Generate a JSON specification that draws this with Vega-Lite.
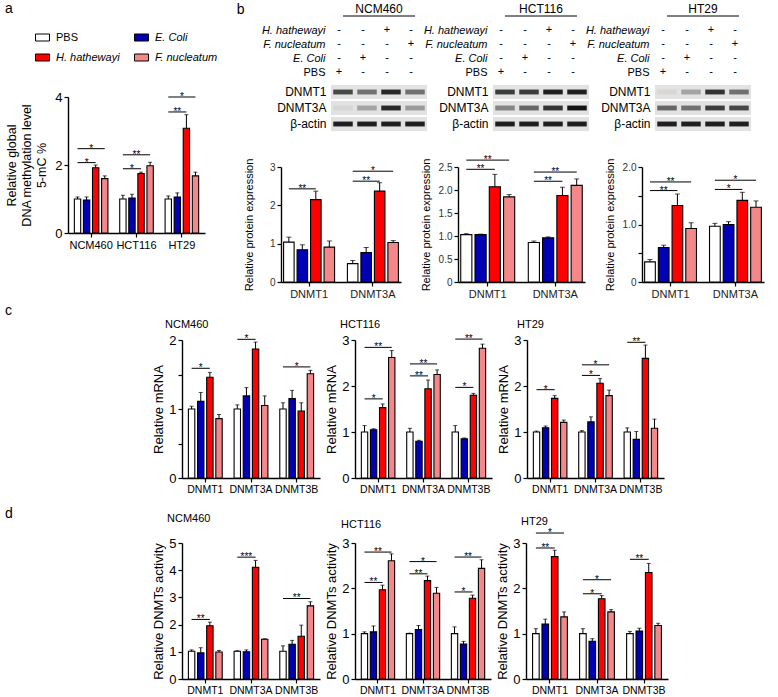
{
"$schema": "https://vega.github.io/schema/vega-lite/v6.json",
"padding": {"left": 5, "top": 2, "right": 5, "bottom": 0},
"config": {
 "font": "Liberation Sans",
 "view": {"stroke": null},
 "axis": {"domainColor": "black", "domainWidth": 1.4, "tickColor": "black", "tickWidth": 1.2, "tickSize": 4, "labelColor": "black", "titleColor": "black", "titleFontWeight": "normal", "grid": false, "labelPadding": 2, "labelOverlap": false},
 "title": {"fontWeight": "normal", "color": "black"},
 "legend": {"labelFont": "Liberation Sans"}
},
"datasets": {
 "bars": [
  {"p":"a","g":"NCM460","t":"PBS","v":1.0,"hi":1.06},
  {"p":"a","g":"NCM460","t":"E. Coli","v":0.97,"hi":1.06},
  {"p":"a","g":"NCM460","t":"H. hathewayi","v":1.92,"hi":2.0},
  {"p":"a","g":"NCM460","t":"F. nucleatum","v":1.6,"hi":1.68},
  {"p":"a","g":"HCT116","t":"PBS","v":1.0,"hi":1.11},
  {"p":"a","g":"HCT116","t":"E. Coli","v":1.03,"hi":1.14},
  {"p":"a","g":"HCT116","t":"H. hathewayi","v":1.75,"hi":1.79},
  {"p":"a","g":"HCT116","t":"F. nucleatum","v":1.98,"hi":2.08},
  {"p":"a","g":"HT29","t":"PBS","v":1.0,"hi":1.09},
  {"p":"a","g":"HT29","t":"E. Coli","v":1.06,"hi":1.18},
  {"p":"a","g":"HT29","t":"H. hathewayi","v":3.08,"hi":3.48},
  {"p":"a","g":"HT29","t":"F. nucleatum","v":1.68,"hi":1.79},
  {"p":"b1","g":"DNMT1","t":"PBS","v":1.04,"hi":1.17},
  {"p":"b1","g":"DNMT1","t":"E. Coli","v":0.84,"hi":0.97},
  {"p":"b1","g":"DNMT1","t":"H. hathewayi","v":2.15,"hi":2.37},
  {"p":"b1","g":"DNMT1","t":"F. nucleatum","v":0.91,"hi":1.07},
  {"p":"b1","g":"DNMT3A","t":"PBS","v":0.48,"hi":0.56},
  {"p":"b1","g":"DNMT3A","t":"E. Coli","v":0.77,"hi":0.9},
  {"p":"b1","g":"DNMT3A","t":"H. hathewayi","v":2.37,"hi":2.59},
  {"p":"b1","g":"DNMT3A","t":"F. nucleatum","v":1.03,"hi":1.08},
  {"p":"b2","g":"DNMT1","t":"PBS","v":1.03,"hi":1.05},
  {"p":"b2","g":"DNMT1","t":"E. Coli","v":1.03,"hi":1.04},
  {"p":"b2","g":"DNMT1","t":"H. hathewayi","v":2.07,"hi":2.34},
  {"p":"b2","g":"DNMT1","t":"F. nucleatum","v":1.85,"hi":1.9},
  {"p":"b2","g":"DNMT3A","t":"PBS","v":0.86,"hi":0.89},
  {"p":"b2","g":"DNMT3A","t":"E. Coli","v":0.96,"hi":0.98},
  {"p":"b2","g":"DNMT3A","t":"H. hathewayi","v":1.88,"hi":2.06},
  {"p":"b2","g":"DNMT3A","t":"F. nucleatum","v":2.1,"hi":2.24},
  {"p":"b3","g":"DNMT1","t":"PBS","v":0.35,"hi":0.39},
  {"p":"b3","g":"DNMT1","t":"E. Coli","v":0.6,"hi":0.64},
  {"p":"b3","g":"DNMT1","t":"H. hathewayi","v":1.33,"hi":1.53},
  {"p":"b3","g":"DNMT1","t":"F. nucleatum","v":0.93,"hi":1.03},
  {"p":"b3","g":"DNMT3A","t":"PBS","v":0.97,"hi":1.02},
  {"p":"b3","g":"DNMT3A","t":"E. Coli","v":1.0,"hi":1.05},
  {"p":"b3","g":"DNMT3A","t":"H. hathewayi","v":1.42,"hi":1.56},
  {"p":"b3","g":"DNMT3A","t":"F. nucleatum","v":1.3,"hi":1.41},
  {"p":"c1","g":"DNMT1","t":"PBS","v":1.0,"hi":1.04},
  {"p":"c1","g":"DNMT1","t":"E. Coli","v":1.11,"hi":1.24},
  {"p":"c1","g":"DNMT1","t":"H. hathewayi","v":1.46,"hi":1.53},
  {"p":"c1","g":"DNMT1","t":"F. nucleatum","v":0.86,"hi":0.92},
  {"p":"c1","g":"DNMT3A","t":"PBS","v":1.0,"hi":1.06},
  {"p":"c1","g":"DNMT3A","t":"E. Coli","v":1.19,"hi":1.31},
  {"p":"c1","g":"DNMT3A","t":"H. hathewayi","v":1.87,"hi":1.97},
  {"p":"c1","g":"DNMT3A","t":"F. nucleatum","v":1.05,"hi":1.19},
  {"p":"c1","g":"DNMT3B","t":"PBS","v":1.0,"hi":1.09},
  {"p":"c1","g":"DNMT3B","t":"E. Coli","v":1.15,"hi":1.27},
  {"p":"c1","g":"DNMT3B","t":"H. hathewayi","v":0.97,"hi":1.09},
  {"p":"c1","g":"DNMT3B","t":"F. nucleatum","v":1.51,"hi":1.56},
  {"p":"c2","g":"DNMT1","t":"PBS","v":1.0,"hi":1.14},
  {"p":"c2","g":"DNMT1","t":"E. Coli","v":1.05,"hi":1.07},
  {"p":"c2","g":"DNMT1","t":"H. hathewayi","v":1.53,"hi":1.61},
  {"p":"c2","g":"DNMT1","t":"F. nucleatum","v":2.62,"hi":2.77},
  {"p":"c2","g":"DNMT3A","t":"PBS","v":1.0,"hi":1.08},
  {"p":"c2","g":"DNMT3A","t":"E. Coli","v":0.8,"hi":0.82},
  {"p":"c2","g":"DNMT3A","t":"H. hathewayi","v":1.94,"hi":2.13},
  {"p":"c2","g":"DNMT3A","t":"F. nucleatum","v":2.25,"hi":2.35},
  {"p":"c2","g":"DNMT3B","t":"PBS","v":1.0,"hi":1.14},
  {"p":"c2","g":"DNMT3B","t":"E. Coli","v":0.85,"hi":0.87},
  {"p":"c2","g":"DNMT3B","t":"H. hathewayi","v":1.8,"hi":1.84},
  {"p":"c2","g":"DNMT3B","t":"F. nucleatum","v":2.82,"hi":2.91},
  {"p":"c3","g":"DNMT1","t":"PBS","v":1.0,"hi":1.02},
  {"p":"c3","g":"DNMT1","t":"E. Coli","v":1.09,"hi":1.13},
  {"p":"c3","g":"DNMT1","t":"H. hathewayi","v":1.73,"hi":1.79},
  {"p":"c3","g":"DNMT1","t":"F. nucleatum","v":1.21,"hi":1.26},
  {"p":"c3","g":"DNMT3A","t":"PBS","v":1.0,"hi":1.03},
  {"p":"c3","g":"DNMT3A","t":"E. Coli","v":1.22,"hi":1.33},
  {"p":"c3","g":"DNMT3A","t":"H. hathewayi","v":2.06,"hi":2.16},
  {"p":"c3","g":"DNMT3A","t":"F. nucleatum","v":1.79,"hi":1.91},
  {"p":"c3","g":"DNMT3B","t":"PBS","v":1.0,"hi":1.09},
  {"p":"c3","g":"DNMT3B","t":"E. Coli","v":0.84,"hi":1.01},
  {"p":"c3","g":"DNMT3B","t":"H. hathewayi","v":2.6,"hi":2.89},
  {"p":"c3","g":"DNMT3B","t":"F. nucleatum","v":1.08,"hi":1.28},
  {"p":"d1","g":"DNMT1","t":"PBS","v":1.02,"hi":1.07},
  {"p":"d1","g":"DNMT1","t":"E. Coli","v":0.96,"hi":1.15},
  {"p":"d1","g":"DNMT1","t":"H. hathewayi","v":1.96,"hi":2.09},
  {"p":"d1","g":"DNMT1","t":"F. nucleatum","v":0.99,"hi":1.05},
  {"p":"d1","g":"DNMT3A","t":"PBS","v":1.02,"hi":1.04},
  {"p":"d1","g":"DNMT3A","t":"E. Coli","v":1.0,"hi":1.07},
  {"p":"d1","g":"DNMT3A","t":"H. hathewayi","v":4.11,"hi":4.36},
  {"p":"d1","g":"DNMT3A","t":"F. nucleatum","v":1.46,"hi":1.48},
  {"p":"d1","g":"DNMT3B","t":"PBS","v":1.02,"hi":1.22},
  {"p":"d1","g":"DNMT3B","t":"E. Coli","v":1.28,"hi":1.42},
  {"p":"d1","g":"DNMT3B","t":"H. hathewayi","v":1.57,"hi":1.98},
  {"p":"d1","g":"DNMT3B","t":"F. nucleatum","v":2.69,"hi":2.84},
  {"p":"d2","g":"DNMT1","t":"PBS","v":1.0,"hi":1.04},
  {"p":"d2","g":"DNMT1","t":"E. Coli","v":1.04,"hi":1.17},
  {"p":"d2","g":"DNMT1","t":"H. hathewayi","v":1.97,"hi":2.07},
  {"p":"d2","g":"DNMT1","t":"F. nucleatum","v":2.61,"hi":2.76},
  {"p":"d2","g":"DNMT3A","t":"PBS","v":1.0,"hi":1.01},
  {"p":"d2","g":"DNMT3A","t":"E. Coli","v":1.09,"hi":1.18},
  {"p":"d2","g":"DNMT3A","t":"H. hathewayi","v":2.17,"hi":2.27},
  {"p":"d2","g":"DNMT3A","t":"F. nucleatum","v":1.89,"hi":2.02},
  {"p":"d2","g":"DNMT3B","t":"PBS","v":1.0,"hi":1.15},
  {"p":"d2","g":"DNMT3B","t":"E. Coli","v":0.77,"hi":0.83},
  {"p":"d2","g":"DNMT3B","t":"H. hathewayi","v":1.78,"hi":1.85},
  {"p":"d2","g":"DNMT3B","t":"F. nucleatum","v":2.44,"hi":2.63},
  {"p":"d3","g":"DNMT1","t":"PBS","v":1.0,"hi":1.11},
  {"p":"d3","g":"DNMT1","t":"E. Coli","v":1.21,"hi":1.32},
  {"p":"d3","g":"DNMT1","t":"H. hathewayi","v":2.7,"hi":2.84},
  {"p":"d3","g":"DNMT1","t":"F. nucleatum","v":1.37,"hi":1.48},
  {"p":"d3","g":"DNMT3A","t":"PBS","v":1.0,"hi":1.11},
  {"p":"d3","g":"DNMT3A","t":"E. Coli","v":0.83,"hi":0.89},
  {"p":"d3","g":"DNMT3A","t":"H. hathewayi","v":1.77,"hi":1.84},
  {"p":"d3","g":"DNMT3A","t":"F. nucleatum","v":1.48,"hi":1.53},
  {"p":"d3","g":"DNMT3B","t":"PBS","v":1.0,"hi":1.05},
  {"p":"d3","g":"DNMT3B","t":"E. Coli","v":1.06,"hi":1.12},
  {"p":"d3","g":"DNMT3B","t":"H. hathewayi","v":2.35,"hi":2.55},
  {"p":"d3","g":"DNMT3B","t":"F. nucleatum","v":1.18,"hi":1.23}
 ],
 "brk": [
  {"p":"a","g":"NCM460","from":"PBS","to":"H. hathewayi","y":2.07,"lab":"*"},
  {"p":"a","g":"NCM460","from":"PBS","to":"F. nucleatum","y":2.48,"lab":"*"},
  {"p":"a","g":"HCT116","from":"PBS","to":"H. hathewayi","y":1.89,"lab":"*"},
  {"p":"a","g":"HCT116","from":"PBS","to":"F. nucleatum","y":2.3,"lab":"**"},
  {"p":"a","g":"HT29","from":"PBS","to":"H. hathewayi","y":3.56,"lab":"**"},
  {"p":"a","g":"HT29","from":"PBS","to":"F. nucleatum","y":4.0,"lab":"*"},
  {"p":"b1","g":"DNMT1","from":"PBS","to":"H. hathewayi","y":2.43,"lab":"**"},
  {"p":"b1","g":"DNMT3A","from":"PBS","to":"H. hathewayi","y":2.63,"lab":"**"},
  {"p":"b1","g":"DNMT3A","from":"PBS","to":"F. nucleatum","y":2.89,"lab":"*"},
  {"p":"b2","g":"DNMT1","from":"PBS","to":"H. hathewayi","y":2.45,"lab":"**"},
  {"p":"b2","g":"DNMT1","from":"PBS","to":"F. nucleatum","y":2.65,"lab":"**"},
  {"p":"b2","g":"DNMT3A","from":"PBS","to":"H. hathewayi","y":2.19,"lab":"**"},
  {"p":"b2","g":"DNMT3A","from":"PBS","to":"F. nucleatum","y":2.39,"lab":"**"},
  {"p":"b3","g":"DNMT1","from":"PBS","to":"H. hathewayi","y":1.59,"lab":"**"},
  {"p":"b3","g":"DNMT1","from":"PBS","to":"F. nucleatum","y":1.74,"lab":"**"},
  {"p":"b3","g":"DNMT3A","from":"PBS","to":"H. hathewayi","y":1.61,"lab":"*"},
  {"p":"b3","g":"DNMT3A","from":"PBS","to":"F. nucleatum","y":1.77,"lab":"*"},
  {"p":"c1","g":"DNMT1","from":"PBS","to":"H. hathewayi","y":1.59,"lab":"*"},
  {"p":"c1","g":"DNMT3A","from":"PBS","to":"H. hathewayi","y":2.01,"lab":"*"},
  {"p":"c1","g":"DNMT3B","from":"PBS","to":"F. nucleatum","y":1.61,"lab":"*"},
  {"p":"c2","g":"DNMT1","from":"PBS","to":"H. hathewayi","y":1.72,"lab":"*"},
  {"p":"c2","g":"DNMT1","from":"PBS","to":"F. nucleatum","y":2.84,"lab":"**"},
  {"p":"c2","g":"DNMT3A","from":"PBS","to":"H. hathewayi","y":2.22,"lab":"**"},
  {"p":"c2","g":"DNMT3A","from":"PBS","to":"F. nucleatum","y":2.48,"lab":"**"},
  {"p":"c2","g":"DNMT3B","from":"PBS","to":"H. hathewayi","y":1.97,"lab":"*"},
  {"p":"c2","g":"DNMT3B","from":"PBS","to":"F. nucleatum","y":3.02,"lab":"**"},
  {"p":"c3","g":"DNMT1","from":"PBS","to":"H. hathewayi","y":1.92,"lab":"*"},
  {"p":"c3","g":"DNMT3A","from":"PBS","to":"H. hathewayi","y":2.23,"lab":"*"},
  {"p":"c3","g":"DNMT3A","from":"PBS","to":"F. nucleatum","y":2.46,"lab":"*"},
  {"p":"c3","g":"DNMT3B","from":"PBS","to":"H. hathewayi","y":2.95,"lab":"**"},
  {"p":"d1","g":"DNMT1","from":"PBS","to":"H. hathewayi","y":2.19,"lab":"**"},
  {"p":"d1","g":"DNMT3A","from":"PBS","to":"H. hathewayi","y":4.48,"lab":"***"},
  {"p":"d1","g":"DNMT3B","from":"PBS","to":"F. nucleatum","y":2.96,"lab":"**"},
  {"p":"d2","g":"DNMT1","from":"PBS","to":"H. hathewayi","y":2.13,"lab":"**"},
  {"p":"d2","g":"DNMT1","from":"PBS","to":"F. nucleatum","y":2.8,"lab":"**"},
  {"p":"d2","g":"DNMT3A","from":"PBS","to":"H. hathewayi","y":2.32,"lab":"**"},
  {"p":"d2","g":"DNMT3A","from":"PBS","to":"F. nucleatum","y":2.59,"lab":"*"},
  {"p":"d2","g":"DNMT3B","from":"PBS","to":"H. hathewayi","y":1.92,"lab":"*"},
  {"p":"d2","g":"DNMT3B","from":"PBS","to":"F. nucleatum","y":2.69,"lab":"**"},
  {"p":"d3","g":"DNMT1","from":"PBS","to":"H. hathewayi","y":2.89,"lab":"**"},
  {"p":"d3","g":"DNMT1","from":"PBS","to":"F. nucleatum","y":3.22,"lab":"*"},
  {"p":"d3","g":"DNMT3A","from":"PBS","to":"H. hathewayi","y":1.88,"lab":"*"},
  {"p":"d3","g":"DNMT3A","from":"PBS","to":"F. nucleatum","y":2.19,"lab":"*"},
  {"p":"d3","g":"DNMT3B","from":"PBS","to":"H. hathewayi","y":2.64,"lab":"**"}
 ],
 "pm": [
  {"r":"H. hathewayi","l":"PBS","s":"-"},{"r":"H. hathewayi","l":"E. Coli","s":"-"},{"r":"H. hathewayi","l":"H. hathewayi","s":"+"},{"r":"H. hathewayi","l":"F. nucleatum","s":"-"},
  {"r":"F. nucleatum","l":"PBS","s":"-"},{"r":"F. nucleatum","l":"E. Coli","s":"-"},{"r":"F. nucleatum","l":"H. hathewayi","s":"-"},{"r":"F. nucleatum","l":"F. nucleatum","s":"+"},
  {"r":"E. Coli","l":"PBS","s":"-"},{"r":"E. Coli","l":"E. Coli","s":"+"},{"r":"E. Coli","l":"H. hathewayi","s":"-"},{"r":"E. Coli","l":"F. nucleatum","s":"-"},
  {"r":"PBS","l":"PBS","s":"+"},{"r":"PBS","l":"E. Coli","s":"-"},{"r":"PBS","l":"H. hathewayi","s":"-"},{"r":"PBS","l":"F. nucleatum","s":"-"}
 ],
 "blot": [
  {"c":"NCM460","r":"DNMT1","l":"PBS","i":0.75},{"c":"NCM460","r":"DNMT1","l":"E. Coli","i":0.55},{"c":"NCM460","r":"DNMT1","l":"H. hathewayi","i":0.9},{"c":"NCM460","r":"DNMT1","l":"F. nucleatum","i":0.55},
  {"c":"NCM460","r":"DNMT3A","l":"PBS","i":0.05},{"c":"NCM460","r":"DNMT3A","l":"E. Coli","i":0.3},{"c":"NCM460","r":"DNMT3A","l":"H. hathewayi","i":0.9},{"c":"NCM460","r":"DNMT3A","l":"F. nucleatum","i":0.35},
  {"c":"NCM460","r":"β-actin","l":"PBS","i":0.95},{"c":"NCM460","r":"β-actin","l":"E. Coli","i":0.95},{"c":"NCM460","r":"β-actin","l":"H. hathewayi","i":0.95},{"c":"NCM460","r":"β-actin","l":"F. nucleatum","i":0.95},
  {"c":"HCT116","r":"DNMT1","l":"PBS","i":0.8},{"c":"HCT116","r":"DNMT1","l":"E. Coli","i":0.8},{"c":"HCT116","r":"DNMT1","l":"H. hathewayi","i":0.95},{"c":"HCT116","r":"DNMT1","l":"F. nucleatum","i":0.95},
  {"c":"HCT116","r":"DNMT3A","l":"PBS","i":0.45},{"c":"HCT116","r":"DNMT3A","l":"E. Coli","i":0.6},{"c":"HCT116","r":"DNMT3A","l":"H. hathewayi","i":0.85},{"c":"HCT116","r":"DNMT3A","l":"F. nucleatum","i":1.0},
  {"c":"HCT116","r":"β-actin","l":"PBS","i":0.95},{"c":"HCT116","r":"β-actin","l":"E. Coli","i":0.95},{"c":"HCT116","r":"β-actin","l":"H. hathewayi","i":0.95},{"c":"HCT116","r":"β-actin","l":"F. nucleatum","i":0.95},
  {"c":"HT29","r":"DNMT1","l":"PBS","i":0.05},{"c":"HT29","r":"DNMT1","l":"E. Coli","i":0.3},{"c":"HT29","r":"DNMT1","l":"H. hathewayi","i":0.85},{"c":"HT29","r":"DNMT1","l":"F. nucleatum","i":0.55},
  {"c":"HT29","r":"DNMT3A","l":"PBS","i":0.6},{"c":"HT29","r":"DNMT3A","l":"E. Coli","i":0.55},{"c":"HT29","r":"DNMT3A","l":"H. hathewayi","i":0.8},{"c":"HT29","r":"DNMT3A","l":"F. nucleatum","i":0.75},
  {"c":"HT29","r":"β-actin","l":"PBS","i":0.95},{"c":"HT29","r":"β-actin","l":"E. Coli","i":0.95},{"c":"HT29","r":"β-actin","l":"H. hathewayi","i":0.95},{"c":"HT29","r":"β-actin","l":"F. nucleatum","i":0.95}
 ]
},
"resolve": {"scale": {"x": "independent", "y": "independent", "xOffset": "independent", "fill": "independent", "opacity": "independent"}, "legend": {"fill": "independent", "opacity": "independent"}},
"spacing": 5,
"vconcat": [
{
 "spacing": 18,
 "resolve": {"scale": {"x": "independent", "y": "independent", "xOffset": "independent", "fill": "independent", "opacity": "independent"}, "legend": {"fill": "independent", "opacity": "independent"}},
 "hconcat": [
  {
   "spacing": 14,
   "resolve": {"scale": {"x": "independent", "y": "independent", "xOffset": "independent", "fill": "independent"}, "legend": {"fill": "independent"}},
   "vconcat": [
    {"width": 137, "height": 1, "title": {"text": "a", "anchor": "start", "frame": "group", "dx": -63, "dy": 7, "offset": 0, "fontSize": 14}, "data": {"values": []}, "mark": "point", "encoding": {}},
    {
     "width": 137, "height": 136,
     "layer": [
      {"data": {"name": "bars"}, "transform": [{"filter": "datum.p == 'a'"}], "mark": {"type": "bar", "stroke": "black", "strokeWidth": 1.1},
       "encoding": {
        "x": {"field": "g", "type": "nominal", "scale": {"domain": ["NCM460","HCT116","HT29"], "paddingInner": 0.22, "paddingOuter": 0.12}, "axis": {"title": null, "labelAngle": 0, "labelFontSize": 11}},
        "xOffset": {"field": "t", "type": "nominal", "scale": {"domain": ["PBS","E. Coli","H. hathewayi","F. nucleatum"], "paddingInner": 0.3, "paddingOuter": 0.1}},
        "y": {"field": "v", "type": "quantitative", "scale": {"domain": [0,4], "nice": false}, "axis": {"title": ["Relative global","DNA methylation level","5-mC %"], "titleFontSize": 12.5, "titleLineHeight": 15, "titlePadding": 6, "labelFontSize": 13, "tickCount": 12, "format": "d", "values": [0,2,4]}},
        "fill": {"field": "t", "type": "nominal", "scale": {"domain": ["PBS","E. Coli","H. hathewayi","F. nucleatum"], "range": ["#ffffff","#0000b4","#ff0000","#f4878a"]},
         "legend": {"orient": "none", "legendX": -33, "legendY": -67, "columns": 2, "direction": "horizontal", "title": null, "symbolType": "M-1,-0.5L1,-0.5L1,0.5L-1,0.5Z", "symbolSize": 196, "symbolStrokeColor": "black", "symbolStrokeWidth": 1, "labelFontSize": 11, "columnPadding": 12, "rowPadding": 7, "labelOffset": 6,
          "encoding": {"labels": {"fontStyle": {"condition": {"test": "datum.label == 'PBS'", "value": "normal"}, "value": "italic"}}}}}
       }},
      {"data": {"name": "bars"}, "transform": [{"filter": "datum.p == 'a'"}], "mark": {"type": "rule", "color": "black", "strokeWidth": 1},
       "encoding": {"x": {"field": "g", "type": "nominal"}, "xOffset": {"field": "t", "type": "nominal"}, "y": {"field": "v", "type": "quantitative", "scale": {"domain": [0,4], "nice": false}}, "y2": {"field": "hi"}}},
      {"data": {"name": "bars"}, "transform": [{"filter": "datum.p == 'a'"}], "mark": {"type": "tick", "color": "black", "thickness": 1, "size": 4},
       "encoding": {"x": {"field": "g", "type": "nominal"}, "xOffset": {"field": "t", "type": "nominal"}, "y": {"field": "hi", "type": "quantitative", "scale": {"domain": [0,4], "nice": false}}}},
      {"data": {"name": "brk"}, "transform": [{"filter": "datum.p == 'a'"}, {"fold": ["from","to"], "as": ["end","tr"]}], "mark": {"type": "line", "color": "black", "strokeWidth": 1},
       "encoding": {"x": {"field": "g", "type": "nominal"}, "xOffset": {"field": "tr", "type": "nominal"}, "y": {"field": "y", "type": "quantitative", "scale": {"domain": [0,4], "nice": false}}, "detail": [{"field": "g", "type": "nominal"}, {"field": "to", "type": "nominal"}]}},
      {"data": {"name": "brk"}, "transform": [{"filter": "datum.p == 'a'"}], "mark": {"type": "text", "fontSize": 10, "baseline": "alphabetic", "dy": 3, "color": "black", "dx": {"expr": "datum.to == 'F. nucleatum' ? -13.6 : -9.07"}},
       "encoding": {"x": {"field": "g", "type": "nominal"}, "xOffset": {"field": "to", "type": "nominal"}, "y": {"field": "y", "type": "quantitative", "scale": {"domain": [0,4], "nice": false}}, "text": {"field": "lab"}}}
     ]
    }
   ]
  },
  {
   "resolve": {"scale": {"x": "independent", "y": "independent", "xOffset": "independent", "fill": "independent", "opacity": "independent"}, "legend": {"fill": "independent", "opacity": "independent"}},
   "spacing": 23,
   "vconcat": [
    {
     "resolve": {"scale": {"x": "independent", "y": "independent", "opacity": "independent"}, "legend": {"opacity": "independent"}},
     "spacing": 5,
     "vconcat": [
      {
       "bounds": "flush", "spacing": 66,
       "title": {"text": "b", "orient": "left", "anchor": "end", "angle": 0, "align": "right", "baseline": "top", "frame": "bounds", "offset": 9, "fontSize": 14},
       "resolve": {"scale": {"x": "independent", "y": "independent"}},
       "hconcat": [
        {"width": 146, "height": 70, "title": {"text": "NCM460", "fontSize": 12, "frame": "group", "offset": 0, "dy": 7, "dx": 25},
         "layer": [
          {"data": {"name": "pm"}, "mark": {"type": "text", "fontSize": 11, "dx": -4, "color": "black"},
           "encoding": {"x": {"field": "l", "type": "nominal", "scale": {"domain": ["PBS","E. Coli","H. hathewayi","F. nucleatum"], "range": [50, 146], "paddingInner": 0, "paddingOuter": 0}, "axis": null},
            "y": {"field": "r", "type": "nominal", "scale": {"domain": ["hdr","H. hathewayi","F. nucleatum","E. Coli","PBS"], "paddingInner": 0, "paddingOuter": 0},
             "axis": {"title": null, "domain": false, "ticks": false, "offset": -50, "labelFontSize": 11, "labelPadding": 6, "labelExpr": "datum.value == 'hdr' ? '' : datum.label", "labelFontStyle": {"condition": {"test": "datum.value == 'PBS'", "value": "normal"}, "value": "italic"}}},
            "text": {"field": "s"}}},
          {"data": {"name": "pm"}, "transform": [{"filter": "datum.r == 'PBS'"}], "mark": {"type": "line", "color": "black", "strokeWidth": 1},
           "encoding": {"x": {"field": "l", "type": "nominal"}, "y": {"datum": "hdr", "type": "nominal"}}}
         ]},
        {"width": 96, "height": 70, "title": {"text": "HCT116", "fontSize": 12, "frame": "group", "offset": 0, "dy": 7},
         "layer": [
          {"data": {"name": "pm"}, "mark": {"type": "text", "fontSize": 11, "dx": -4, "color": "black"},
           "encoding": {"x": {"field": "l", "type": "nominal", "scale": {"domain": ["PBS","E. Coli","H. hathewayi","F. nucleatum"], "paddingInner": 0, "paddingOuter": 0}, "axis": null},
            "y": {"field": "r", "type": "nominal", "scale": {"domain": ["hdr","H. hathewayi","F. nucleatum","E. Coli","PBS"], "paddingInner": 0, "paddingOuter": 0},
             "axis": {"title": null, "domain": false, "ticks": false, "labelFontSize": 11, "labelPadding": 6, "labelExpr": "datum.value == 'hdr' ? '' : datum.label", "labelFontStyle": {"condition": {"test": "datum.value == 'PBS'", "value": "normal"}, "value": "italic"}}},
            "text": {"field": "s"}}},
          {"data": {"name": "pm"}, "transform": [{"filter": "datum.r == 'PBS'"}], "mark": {"type": "line", "color": "black", "strokeWidth": 1},
           "encoding": {"x": {"field": "l", "type": "nominal"}, "y": {"datum": "hdr", "type": "nominal"}}}
         ]},
        {"width": 96, "height": 70, "title": {"text": "HT29", "fontSize": 12, "frame": "group", "offset": 0, "dy": 7},
         "layer": [
          {"data": {"name": "pm"}, "mark": {"type": "text", "fontSize": 11, "dx": -4, "color": "black"},
           "encoding": {"x": {"field": "l", "type": "nominal", "scale": {"domain": ["PBS","E. Coli","H. hathewayi","F. nucleatum"], "paddingInner": 0, "paddingOuter": 0}, "axis": null},
            "y": {"field": "r", "type": "nominal", "scale": {"domain": ["hdr","H. hathewayi","F. nucleatum","E. Coli","PBS"], "paddingInner": 0, "paddingOuter": 0},
             "axis": {"title": null, "domain": false, "ticks": false, "labelFontSize": 11, "labelPadding": 6, "labelExpr": "datum.value == 'hdr' ? '' : datum.label", "labelFontStyle": {"condition": {"test": "datum.value == 'PBS'", "value": "normal"}, "value": "italic"}}},
            "text": {"field": "s"}}},
          {"data": {"name": "pm"}, "transform": [{"filter": "datum.r == 'PBS'"}], "mark": {"type": "line", "color": "black", "strokeWidth": 1},
           "encoding": {"x": {"field": "l", "type": "nominal"}, "y": {"datum": "hdr", "type": "nominal"}}}
         ]}
       ]
      },
      {
       "bounds": "flush", "spacing": 66,
       "resolve": {"scale": {"x": "independent", "y": "independent", "opacity": "independent"}, "legend": {"opacity": "independent"}},
       "hconcat": [
        {"width": 146, "height": 48, "data": {"name": "blot"}, "transform": [{"filter": "datum.c == 'NCM460'"}],
         "layer": [
          {"mark": {"type": "rect", "color": "#e2e2e2"},
           "encoding": {"x": {"field": "l", "type": "nominal", "scale": {"domain": ["PBS","E. Coli","H. hathewayi","F. nucleatum"], "range": [50, 146], "paddingInner": 0, "paddingOuter": 0}, "axis": null},
            "y": {"field": "r", "type": "nominal", "scale": {"domain": ["DNMT1","DNMT3A","β-actin"], "paddingInner": 0.12, "paddingOuter": 0.06}, "axis": {"title": null, "domain": false, "ticks": false, "offset": -50, "labelFontSize": 12, "labelPadding": 5}}}},
          {"mark": {"type": "point", "shape": "M-1,-0.25L1,-0.25L1,0.25L-1,0.25Z", "size": 380, "filled": true, "color": "#141414", "strokeWidth": 0},
           "encoding": {"x": {"field": "l", "type": "nominal"}, "y": {"field": "r", "type": "nominal"}, "opacity": {"field": "i", "type": "quantitative", "scale": {"domain": [0,1], "range": [0,1]}, "legend": null}}}
         ]},
        {"width": 96, "height": 48, "data": {"name": "blot"}, "transform": [{"filter": "datum.c == 'HCT116'"}],
         "layer": [
          {"mark": {"type": "rect", "color": "#e2e2e2"},
           "encoding": {"x": {"field": "l", "type": "nominal", "scale": {"domain": ["PBS","E. Coli","H. hathewayi","F. nucleatum"], "paddingInner": 0, "paddingOuter": 0}, "axis": null},
            "y": {"field": "r", "type": "nominal", "scale": {"domain": ["DNMT1","DNMT3A","β-actin"], "paddingInner": 0.12, "paddingOuter": 0.06}, "axis": {"title": null, "domain": false, "ticks": false, "labelFontSize": 12, "labelPadding": 5}}}},
          {"mark": {"type": "point", "shape": "M-1,-0.25L1,-0.25L1,0.25L-1,0.25Z", "size": 380, "filled": true, "color": "#141414", "strokeWidth": 0},
           "encoding": {"x": {"field": "l", "type": "nominal"}, "y": {"field": "r", "type": "nominal"}, "opacity": {"field": "i", "type": "quantitative", "scale": {"domain": [0,1], "range": [0,1]}, "legend": null}}}
         ]},
        {"width": 96, "height": 48, "data": {"name": "blot"}, "transform": [{"filter": "datum.c == 'HT29'"}],
         "layer": [
          {"mark": {"type": "rect", "color": "#e2e2e2"},
           "encoding": {"x": {"field": "l", "type": "nominal", "scale": {"domain": ["PBS","E. Coli","H. hathewayi","F. nucleatum"], "paddingInner": 0, "paddingOuter": 0}, "axis": null},
            "y": {"field": "r", "type": "nominal", "scale": {"domain": ["DNMT1","DNMT3A","β-actin"], "paddingInner": 0.12, "paddingOuter": 0.06}, "axis": {"title": null, "domain": false, "ticks": false, "labelFontSize": 12, "labelPadding": 5}}}},
          {"mark": {"type": "point", "shape": "M-1,-0.25L1,-0.25L1,0.25L-1,0.25Z", "size": 380, "filled": true, "color": "#141414", "strokeWidth": 0},
           "encoding": {"x": {"field": "l", "type": "nominal"}, "y": {"field": "r", "type": "nominal"}, "opacity": {"field": "i", "type": "quantitative", "scale": {"domain": [0,1], "range": [0,1]}, "legend": null}}}
         ]}
       ]
      }
     ]
    },
    {
     "bounds": "flush", "spacing": 57,
     "resolve": {"scale": {"x": "independent", "y": "independent", "xOffset": "independent", "fill": "independent"}, "legend": {"fill": "independent"}},
     "hconcat": [
      {"width": 120, "height": 115,
       "layer": [
        {"data": {"name": "bars"}, "transform": [{"filter": "datum.p == 'b1'"}], "mark": {"type": "bar", "stroke": "black", "strokeWidth": 1.1},
         "encoding": {
          "x": {"field": "g", "type": "nominal", "scale": {"domain": ["DNMT1","DNMT3A"], "paddingInner": 0.18, "paddingOuter": 0.03}, "axis": {"title": null, "labelAngle": 0, "labelFontSize": 11, "labelColor": "#222"}},
          "xOffset": {"field": "t", "type": "nominal", "scale": {"domain": ["PBS","E. Coli","H. hathewayi","F. nucleatum"], "paddingInner": 0.22, "paddingOuter": 0.05}},
          "y": {"field": "v", "type": "quantitative", "scale": {"domain": [0,3], "nice": false}, "axis": {"title": "Relative protein expression", "titleFontSize": 11, "titlePadding": 6, "minExtent": 21, "maxExtent": 21, "labelFontSize": 10, "labelColor": "#333", "tickCount": 12, "format": "d", "values": [0,1,2,3]}},
          "fill": {"field": "t", "type": "nominal", "scale": {"domain": ["PBS","E. Coli","H. hathewayi","F. nucleatum"], "range": ["#ffffff","#0000b4","#ff0000","#f4878a"]}, "legend": null}
         }},
        {"data": {"name": "bars"}, "transform": [{"filter": "datum.p == 'b1'"}], "mark": {"type": "rule", "color": "black", "strokeWidth": 1},
         "encoding": {"x": {"field": "g", "type": "nominal"}, "xOffset": {"field": "t", "type": "nominal"}, "y": {"field": "v", "type": "quantitative", "scale": {"domain": [0,3], "nice": false}}, "y2": {"field": "hi"}}},
        {"data": {"name": "bars"}, "transform": [{"filter": "datum.p == 'b1'"}], "mark": {"type": "tick", "color": "black", "thickness": 1, "size": 5},
         "encoding": {"x": {"field": "g", "type": "nominal"}, "xOffset": {"field": "t", "type": "nominal"}, "y": {"field": "hi", "type": "quantitative", "scale": {"domain": [0,3], "nice": false}}}},
        {"data": {"name": "brk"}, "transform": [{"filter": "datum.p == 'b1'"}, {"fold": ["from","to"], "as": ["end","tr"]}], "mark": {"type": "line", "color": "black", "strokeWidth": 1},
         "encoding": {"x": {"field": "g", "type": "nominal"}, "xOffset": {"field": "tr", "type": "nominal"}, "y": {"field": "y", "type": "quantitative", "scale": {"domain": [0,3], "nice": false}}, "detail": [{"field": "g", "type": "nominal"}, {"field": "to", "type": "nominal"}]}},
        {"data": {"name": "brk"}, "transform": [{"filter": "datum.p == 'b1'"}], "mark": {"type": "text", "fontSize": 10, "baseline": "alphabetic", "dy": 3, "color": "black", "dx": {"expr": "datum.to == 'F. nucleatum' ? -20.2 : -13.5"}},
         "encoding": {"x": {"field": "g", "type": "nominal"}, "xOffset": {"field": "to", "type": "nominal"}, "y": {"field": "y", "type": "quantitative", "scale": {"domain": [0,3], "nice": false}}, "text": {"field": "lab"}}}
       ]},
      {"width": 127, "height": 115,
       "layer": [
        {"data": {"name": "bars"}, "transform": [{"filter": "datum.p == 'b2'"}], "mark": {"type": "bar", "stroke": "black", "strokeWidth": 1.1},
         "encoding": {
          "x": {"field": "g", "type": "nominal", "scale": {"domain": ["DNMT1","DNMT3A"], "paddingInner": 0.18, "paddingOuter": 0.03}, "axis": {"title": null, "labelAngle": 0, "labelFontSize": 11, "labelColor": "#222"}},
          "xOffset": {"field": "t", "type": "nominal", "scale": {"domain": ["PBS","E. Coli","H. hathewayi","F. nucleatum"], "paddingInner": 0.22, "paddingOuter": 0.05}},
          "y": {"field": "v", "type": "quantitative", "scale": {"domain": [0,2.5], "nice": false}, "axis": {"title": "Relative protein expression", "titleFontSize": 11, "titlePadding": 6, "minExtent": 21, "maxExtent": 21, "labelFontSize": 10, "labelColor": "#333", "tickCount": 12, "values": [0,0.5,1,1.5,2,2.5], "labelExpr": "datum.value == 0 ? '0' : format(datum.value, '.1f')"}},
          "fill": {"field": "t", "type": "nominal", "scale": {"domain": ["PBS","E. Coli","H. hathewayi","F. nucleatum"], "range": ["#ffffff","#0000b4","#ff0000","#f4878a"]}, "legend": null}
         }},
        {"data": {"name": "bars"}, "transform": [{"filter": "datum.p == 'b2'"}], "mark": {"type": "rule", "color": "black", "strokeWidth": 1},
         "encoding": {"x": {"field": "g", "type": "nominal"}, "xOffset": {"field": "t", "type": "nominal"}, "y": {"field": "v", "type": "quantitative", "scale": {"domain": [0,2.5], "nice": false}}, "y2": {"field": "hi"}}},
        {"data": {"name": "bars"}, "transform": [{"filter": "datum.p == 'b2'"}], "mark": {"type": "tick", "color": "black", "thickness": 1, "size": 5},
         "encoding": {"x": {"field": "g", "type": "nominal"}, "xOffset": {"field": "t", "type": "nominal"}, "y": {"field": "hi", "type": "quantitative", "scale": {"domain": [0,2.5], "nice": false}}}},
        {"data": {"name": "brk"}, "transform": [{"filter": "datum.p == 'b2'"}, {"fold": ["from","to"], "as": ["end","tr"]}], "mark": {"type": "line", "color": "black", "strokeWidth": 1},
         "encoding": {"x": {"field": "g", "type": "nominal"}, "xOffset": {"field": "tr", "type": "nominal"}, "y": {"field": "y", "type": "quantitative", "scale": {"domain": [0,2.5], "nice": false}}, "detail": [{"field": "g", "type": "nominal"}, {"field": "to", "type": "nominal"}]}},
        {"data": {"name": "brk"}, "transform": [{"filter": "datum.p == 'b2'"}], "mark": {"type": "text", "fontSize": 10, "baseline": "alphabetic", "dy": 3, "color": "black", "dx": {"expr": "datum.to == 'F. nucleatum' ? -21.4 : -14.3"}},
         "encoding": {"x": {"field": "g", "type": "nominal"}, "xOffset": {"field": "to", "type": "nominal"}, "y": {"field": "y", "type": "quantitative", "scale": {"domain": [0,2.5], "nice": false}}, "text": {"field": "lab"}}}
       ]},
      {"width": 122, "height": 115,
       "layer": [
        {"data": {"name": "bars"}, "transform": [{"filter": "datum.p == 'b3'"}], "mark": {"type": "bar", "stroke": "black", "strokeWidth": 1.1},
         "encoding": {
          "x": {"field": "g", "type": "nominal", "scale": {"domain": ["DNMT1","DNMT3A"], "paddingInner": 0.18, "paddingOuter": 0.03}, "axis": {"title": null, "labelAngle": 0, "labelFontSize": 11, "labelColor": "#222"}},
          "xOffset": {"field": "t", "type": "nominal", "scale": {"domain": ["PBS","E. Coli","H. hathewayi","F. nucleatum"], "paddingInner": 0.22, "paddingOuter": 0.05}},
          "y": {"field": "v", "type": "quantitative", "scale": {"domain": [0,2], "nice": false}, "axis": {"title": "Relative protein expression", "titleFontSize": 11, "titlePadding": 6, "minExtent": 21, "maxExtent": 21, "labelFontSize": 10, "labelColor": "#333", "tickCount": 12, "values": [0,0.5,1,1.5,2], "labelExpr": "datum.value == 0 ? '0' : (datum.value % 1 == 0 ? format(datum.value, '.1f') : '')"}},
          "fill": {"field": "t", "type": "nominal", "scale": {"domain": ["PBS","E. Coli","H. hathewayi","F. nucleatum"], "range": ["#ffffff","#0000b4","#ff0000","#f4878a"]}, "legend": null}
         }},
        {"data": {"name": "bars"}, "transform": [{"filter": "datum.p == 'b3'"}], "mark": {"type": "rule", "color": "black", "strokeWidth": 1},
         "encoding": {"x": {"field": "g", "type": "nominal"}, "xOffset": {"field": "t", "type": "nominal"}, "y": {"field": "v", "type": "quantitative", "scale": {"domain": [0,2], "nice": false}}, "y2": {"field": "hi"}}},
        {"data": {"name": "bars"}, "transform": [{"filter": "datum.p == 'b3'"}], "mark": {"type": "tick", "color": "black", "thickness": 1, "size": 5},
         "encoding": {"x": {"field": "g", "type": "nominal"}, "xOffset": {"field": "t", "type": "nominal"}, "y": {"field": "hi", "type": "quantitative", "scale": {"domain": [0,2], "nice": false}}}},
        {"data": {"name": "brk"}, "transform": [{"filter": "datum.p == 'b3'"}, {"fold": ["from","to"], "as": ["end","tr"]}], "mark": {"type": "line", "color": "black", "strokeWidth": 1},
         "encoding": {"x": {"field": "g", "type": "nominal"}, "xOffset": {"field": "tr", "type": "nominal"}, "y": {"field": "y", "type": "quantitative", "scale": {"domain": [0,2], "nice": false}}, "detail": [{"field": "g", "type": "nominal"}, {"field": "to", "type": "nominal"}]}},
        {"data": {"name": "brk"}, "transform": [{"filter": "datum.p == 'b3'"}], "mark": {"type": "text", "fontSize": 10, "baseline": "alphabetic", "dy": 3, "color": "black", "dx": {"expr": "datum.to == 'F. nucleatum' ? -20.6 : -13.7"}},
         "encoding": {"x": {"field": "g", "type": "nominal"}, "xOffset": {"field": "to", "type": "nominal"}, "y": {"field": "y", "type": "quantitative", "scale": {"domain": [0,2], "nice": false}}, "text": {"field": "lab"}}}
       ]}
     ]
    }
   ]
  }
 ]
},
{
 "spacing": 12,
 "resolve": {"scale": {"x": "independent", "y": "independent", "xOffset": "independent", "fill": "independent"}, "legend": {"fill": "independent"}},
 "vconcat": [
{
 "bounds": "flush", "spacing": 35,
 "resolve": {"scale": {"x": "independent", "y": "independent", "xOffset": "independent", "fill": "independent"}, "legend": {"fill": "independent"}},
 "hconcat": [
  {"width": 79, "height": 138, "title": {"text": "c", "anchor": "start", "frame": "group", "dx": -63, "offset": 22, "fontSize": 14}, "data": {"values": []}, "mark": "point", "encoding": {}},
  {"width": 138, "height": 138,
   "title": {"text": "NCM460", "anchor": "start", "frame": "group", "dx": -17, "offset": 4, "fontSize": 11},
   "layer": [
    {"data": {"name": "bars"}, "transform": [{"filter": "datum.p == 'c1'"}], "mark": {"type": "bar", "stroke": "black", "strokeWidth": 1.1},
     "encoding": {
      "x": {"field": "g", "type": "nominal", "scale": {"domain": ["DNMT1","DNMT3A","DNMT3B"], "paddingInner": 0.22, "paddingOuter": 0.12}, "axis": {"title": null, "labelAngle": 0, "labelFontSize": 10.5}},
      "xOffset": {"field": "t", "type": "nominal", "scale": {"domain": ["PBS","E. Coli","H. hathewayi","F. nucleatum"], "paddingInner": 0.3, "paddingOuter": 0.1}},
      "y": {"field": "v", "type": "quantitative", "scale": {"domain": [0,2], "nice": false}, "axis": {"title": "Relative mRNA", "titleFontSize": 13, "titlePadding": 3, "labelFontSize": 13, "tickCount": 12, "values": [0,0.5,1,1.5,2], "labelExpr": "datum.value % 1 == 0 ? format(datum.value, 'd') : ''"}},
      "fill": {"field": "t", "type": "nominal", "scale": {"domain": ["PBS","E. Coli","H. hathewayi","F. nucleatum"], "range": ["#ffffff","#0000b4","#ff0000","#f4878a"]}, "legend": null}
     }},
    {"data": {"name": "bars"}, "transform": [{"filter": "datum.p == 'c1'"}], "mark": {"type": "rule", "color": "black", "strokeWidth": 1},
     "encoding": {"x": {"field": "g", "type": "nominal"}, "xOffset": {"field": "t", "type": "nominal"}, "y": {"field": "v", "type": "quantitative", "scale": {"domain": [0,2], "nice": false}}, "y2": {"field": "hi"}}},
    {"data": {"name": "bars"}, "transform": [{"filter": "datum.p == 'c1'"}], "mark": {"type": "tick", "color": "black", "thickness": 1, "size": 4},
     "encoding": {"x": {"field": "g", "type": "nominal"}, "xOffset": {"field": "t", "type": "nominal"}, "y": {"field": "hi", "type": "quantitative", "scale": {"domain": [0,2], "nice": false}}}},
    {"data": {"name": "brk"}, "transform": [{"filter": "datum.p == 'c1'"}, {"fold": ["from","to"], "as": ["end","tr"]}], "mark": {"type": "line", "color": "black", "strokeWidth": 1},
     "encoding": {"x": {"field": "g", "type": "nominal"}, "xOffset": {"field": "tr", "type": "nominal"}, "y": {"field": "y", "type": "quantitative", "scale": {"domain": [0,2], "nice": false}}, "detail": [{"field": "g", "type": "nominal"}, {"field": "to", "type": "nominal"}]}},
    {"data": {"name": "brk"}, "transform": [{"filter": "datum.p == 'c1'"}], "mark": {"type": "text", "fontSize": 10, "baseline": "alphabetic", "dy": 3, "color": "black", "dx": {"expr": "datum.to == 'F. nucleatum' ? -13.7 : -9.14"}},
     "encoding": {"x": {"field": "g", "type": "nominal"}, "xOffset": {"field": "to", "type": "nominal"}, "y": {"field": "y", "type": "quantitative", "scale": {"domain": [0,2], "nice": false}}, "text": {"field": "lab"}}}
   ]},
  {"width": 137, "height": 138,
   "title": {"text": "HCT116", "anchor": "start", "frame": "group", "dx": -15, "offset": 4, "fontSize": 11},
   "layer": [
    {"data": {"name": "bars"}, "transform": [{"filter": "datum.p == 'c2'"}], "mark": {"type": "bar", "stroke": "black", "strokeWidth": 1.1},
     "encoding": {
      "x": {"field": "g", "type": "nominal", "scale": {"domain": ["DNMT1","DNMT3A","DNMT3B"], "paddingInner": 0.22, "paddingOuter": 0.12}, "axis": {"title": null, "labelAngle": 0, "labelFontSize": 10.5}},
      "xOffset": {"field": "t", "type": "nominal", "scale": {"domain": ["PBS","E. Coli","H. hathewayi","F. nucleatum"], "paddingInner": 0.3, "paddingOuter": 0.1}},
      "y": {"field": "v", "type": "quantitative", "scale": {"domain": [0,3], "nice": false}, "axis": {"title": "Relative mRNA", "titleFontSize": 13, "titlePadding": 3, "labelFontSize": 13, "tickCount": 12, "format": "d", "values": [0,1,2,3]}},
      "fill": {"field": "t", "type": "nominal", "scale": {"domain": ["PBS","E. Coli","H. hathewayi","F. nucleatum"], "range": ["#ffffff","#0000b4","#ff0000","#f4878a"]}, "legend": null}
     }},
    {"data": {"name": "bars"}, "transform": [{"filter": "datum.p == 'c2'"}], "mark": {"type": "rule", "color": "black", "strokeWidth": 1},
     "encoding": {"x": {"field": "g", "type": "nominal"}, "xOffset": {"field": "t", "type": "nominal"}, "y": {"field": "v", "type": "quantitative", "scale": {"domain": [0,3], "nice": false}}, "y2": {"field": "hi"}}},
    {"data": {"name": "bars"}, "transform": [{"filter": "datum.p == 'c2'"}], "mark": {"type": "tick", "color": "black", "thickness": 1, "size": 4},
     "encoding": {"x": {"field": "g", "type": "nominal"}, "xOffset": {"field": "t", "type": "nominal"}, "y": {"field": "hi", "type": "quantitative", "scale": {"domain": [0,3], "nice": false}}}},
    {"data": {"name": "brk"}, "transform": [{"filter": "datum.p == 'c2'"}, {"fold": ["from","to"], "as": ["end","tr"]}], "mark": {"type": "line", "color": "black", "strokeWidth": 1},
     "encoding": {"x": {"field": "g", "type": "nominal"}, "xOffset": {"field": "tr", "type": "nominal"}, "y": {"field": "y", "type": "quantitative", "scale": {"domain": [0,3], "nice": false}}, "detail": [{"field": "g", "type": "nominal"}, {"field": "to", "type": "nominal"}]}},
    {"data": {"name": "brk"}, "transform": [{"filter": "datum.p == 'c2'"}], "mark": {"type": "text", "fontSize": 10, "baseline": "alphabetic", "dy": 3, "color": "black", "dx": {"expr": "datum.to == 'F. nucleatum' ? -13.6 : -9.07"}},
     "encoding": {"x": {"field": "g", "type": "nominal"}, "xOffset": {"field": "to", "type": "nominal"}, "y": {"field": "y", "type": "quantitative", "scale": {"domain": [0,3], "nice": false}}, "text": {"field": "lab"}}}
   ]},
  {"width": 137, "height": 138,
   "title": {"text": "HT29", "anchor": "start", "frame": "group", "dx": -10, "offset": 4, "fontSize": 11},
   "layer": [
    {"data": {"name": "bars"}, "transform": [{"filter": "datum.p == 'c3'"}], "mark": {"type": "bar", "stroke": "black", "strokeWidth": 1.1},
     "encoding": {
      "x": {"field": "g", "type": "nominal", "scale": {"domain": ["DNMT1","DNMT3A","DNMT3B"], "paddingInner": 0.22, "paddingOuter": 0.12}, "axis": {"title": null, "labelAngle": 0, "labelFontSize": 10.5}},
      "xOffset": {"field": "t", "type": "nominal", "scale": {"domain": ["PBS","E. Coli","H. hathewayi","F. nucleatum"], "paddingInner": 0.3, "paddingOuter": 0.1}},
      "y": {"field": "v", "type": "quantitative", "scale": {"domain": [0,3], "nice": false}, "axis": {"title": "Relative mRNA", "titleFontSize": 13, "titlePadding": 3, "labelFontSize": 13, "tickCount": 12, "format": "d", "values": [0,1,2,3]}},
      "fill": {"field": "t", "type": "nominal", "scale": {"domain": ["PBS","E. Coli","H. hathewayi","F. nucleatum"], "range": ["#ffffff","#0000b4","#ff0000","#f4878a"]}, "legend": null}
     }},
    {"data": {"name": "bars"}, "transform": [{"filter": "datum.p == 'c3'"}], "mark": {"type": "rule", "color": "black", "strokeWidth": 1},
     "encoding": {"x": {"field": "g", "type": "nominal"}, "xOffset": {"field": "t", "type": "nominal"}, "y": {"field": "v", "type": "quantitative", "scale": {"domain": [0,3], "nice": false}}, "y2": {"field": "hi"}}},
    {"data": {"name": "bars"}, "transform": [{"filter": "datum.p == 'c3'"}], "mark": {"type": "tick", "color": "black", "thickness": 1, "size": 4},
     "encoding": {"x": {"field": "g", "type": "nominal"}, "xOffset": {"field": "t", "type": "nominal"}, "y": {"field": "hi", "type": "quantitative", "scale": {"domain": [0,3], "nice": false}}}},
    {"data": {"name": "brk"}, "transform": [{"filter": "datum.p == 'c3'"}, {"fold": ["from","to"], "as": ["end","tr"]}], "mark": {"type": "line", "color": "black", "strokeWidth": 1},
     "encoding": {"x": {"field": "g", "type": "nominal"}, "xOffset": {"field": "tr", "type": "nominal"}, "y": {"field": "y", "type": "quantitative", "scale": {"domain": [0,3], "nice": false}}, "detail": [{"field": "g", "type": "nominal"}, {"field": "to", "type": "nominal"}]}},
    {"data": {"name": "brk"}, "transform": [{"filter": "datum.p == 'c3'"}], "mark": {"type": "text", "fontSize": 10, "baseline": "alphabetic", "dy": 3, "color": "black", "dx": {"expr": "datum.to == 'F. nucleatum' ? -13.6 : -9.07"}},
     "encoding": {"x": {"field": "g", "type": "nominal"}, "xOffset": {"field": "to", "type": "nominal"}, "y": {"field": "y", "type": "quantitative", "scale": {"domain": [0,3], "nice": false}}, "text": {"field": "lab"}}}
   ]}
 ]
},
{
 "bounds": "flush", "spacing": 35,
 "resolve": {"scale": {"x": "independent", "y": "independent", "xOffset": "independent", "fill": "independent"}, "legend": {"fill": "independent"}},
 "hconcat": [
  {"width": 79, "height": 136, "title": {"text": "d", "anchor": "start", "frame": "group", "dx": -63, "offset": 22, "fontSize": 14}, "data": {"values": []}, "mark": "point", "encoding": {}},
  {"width": 138, "height": 136,
   "title": {"text": "NCM460", "anchor": "start", "frame": "group", "dx": -15, "offset": 13, "fontSize": 11},
   "layer": [
    {"data": {"name": "bars"}, "transform": [{"filter": "datum.p == 'd1'"}], "mark": {"type": "bar", "stroke": "black", "strokeWidth": 1.1},
     "encoding": {
      "x": {"field": "g", "type": "nominal", "scale": {"domain": ["DNMT1","DNMT3A","DNMT3B"], "paddingInner": 0.22, "paddingOuter": 0.12}, "axis": {"title": null, "labelAngle": 0, "labelFontSize": 10.5}},
      "xOffset": {"field": "t", "type": "nominal", "scale": {"domain": ["PBS","E. Coli","H. hathewayi","F. nucleatum"], "paddingInner": 0.3, "paddingOuter": 0.1}},
      "y": {"field": "v", "type": "quantitative", "scale": {"domain": [0,5], "nice": false}, "axis": {"title": "Relative DNMTs activity", "titleFontSize": 13, "titlePadding": 3, "labelFontSize": 13, "tickCount": 12, "format": "d", "values": [0,1,2,3,4,5]}},
      "fill": {"field": "t", "type": "nominal", "scale": {"domain": ["PBS","E. Coli","H. hathewayi","F. nucleatum"], "range": ["#ffffff","#0000b4","#ff0000","#f4878a"]}, "legend": null}
     }},
    {"data": {"name": "bars"}, "transform": [{"filter": "datum.p == 'd1'"}], "mark": {"type": "rule", "color": "black", "strokeWidth": 1},
     "encoding": {"x": {"field": "g", "type": "nominal"}, "xOffset": {"field": "t", "type": "nominal"}, "y": {"field": "v", "type": "quantitative", "scale": {"domain": [0,5], "nice": false}}, "y2": {"field": "hi"}}},
    {"data": {"name": "bars"}, "transform": [{"filter": "datum.p == 'd1'"}], "mark": {"type": "tick", "color": "black", "thickness": 1, "size": 4},
     "encoding": {"x": {"field": "g", "type": "nominal"}, "xOffset": {"field": "t", "type": "nominal"}, "y": {"field": "hi", "type": "quantitative", "scale": {"domain": [0,5], "nice": false}}}},
    {"data": {"name": "brk"}, "transform": [{"filter": "datum.p == 'd1'"}, {"fold": ["from","to"], "as": ["end","tr"]}], "mark": {"type": "line", "color": "black", "strokeWidth": 1},
     "encoding": {"x": {"field": "g", "type": "nominal"}, "xOffset": {"field": "tr", "type": "nominal"}, "y": {"field": "y", "type": "quantitative", "scale": {"domain": [0,5], "nice": false}}, "detail": [{"field": "g", "type": "nominal"}, {"field": "to", "type": "nominal"}]}},
    {"data": {"name": "brk"}, "transform": [{"filter": "datum.p == 'd1'"}], "mark": {"type": "text", "fontSize": 10, "baseline": "alphabetic", "dy": 3, "color": "black", "dx": {"expr": "datum.to == 'F. nucleatum' ? -13.7 : -9.14"}},
     "encoding": {"x": {"field": "g", "type": "nominal"}, "xOffset": {"field": "to", "type": "nominal"}, "y": {"field": "y", "type": "quantitative", "scale": {"domain": [0,5], "nice": false}}, "text": {"field": "lab"}}}
   ]},
  {"width": 136, "height": 136,
   "title": {"text": "HCT116", "anchor": "start", "frame": "group", "dx": -14, "offset": 7, "fontSize": 11},
   "layer": [
    {"data": {"name": "bars"}, "transform": [{"filter": "datum.p == 'd2'"}], "mark": {"type": "bar", "stroke": "black", "strokeWidth": 1.1},
     "encoding": {
      "x": {"field": "g", "type": "nominal", "scale": {"domain": ["DNMT1","DNMT3A","DNMT3B"], "paddingInner": 0.22, "paddingOuter": 0.12}, "axis": {"title": null, "labelAngle": 0, "labelFontSize": 10.5}},
      "xOffset": {"field": "t", "type": "nominal", "scale": {"domain": ["PBS","E. Coli","H. hathewayi","F. nucleatum"], "paddingInner": 0.3, "paddingOuter": 0.1}},
      "y": {"field": "v", "type": "quantitative", "scale": {"domain": [0,3], "nice": false}, "axis": {"title": "Relative DNMTs activity", "titleFontSize": 13, "titlePadding": 3, "labelFontSize": 13, "tickCount": 12, "format": "d", "values": [0,1,2,3]}},
      "fill": {"field": "t", "type": "nominal", "scale": {"domain": ["PBS","E. Coli","H. hathewayi","F. nucleatum"], "range": ["#ffffff","#0000b4","#ff0000","#f4878a"]}, "legend": null}
     }},
    {"data": {"name": "bars"}, "transform": [{"filter": "datum.p == 'd2'"}], "mark": {"type": "rule", "color": "black", "strokeWidth": 1},
     "encoding": {"x": {"field": "g", "type": "nominal"}, "xOffset": {"field": "t", "type": "nominal"}, "y": {"field": "v", "type": "quantitative", "scale": {"domain": [0,3], "nice": false}}, "y2": {"field": "hi"}}},
    {"data": {"name": "bars"}, "transform": [{"filter": "datum.p == 'd2'"}], "mark": {"type": "tick", "color": "black", "thickness": 1, "size": 4},
     "encoding": {"x": {"field": "g", "type": "nominal"}, "xOffset": {"field": "t", "type": "nominal"}, "y": {"field": "hi", "type": "quantitative", "scale": {"domain": [0,3], "nice": false}}}},
    {"data": {"name": "brk"}, "transform": [{"filter": "datum.p == 'd2'"}, {"fold": ["from","to"], "as": ["end","tr"]}], "mark": {"type": "line", "color": "black", "strokeWidth": 1},
     "encoding": {"x": {"field": "g", "type": "nominal"}, "xOffset": {"field": "tr", "type": "nominal"}, "y": {"field": "y", "type": "quantitative", "scale": {"domain": [0,3], "nice": false}}, "detail": [{"field": "g", "type": "nominal"}, {"field": "to", "type": "nominal"}]}},
    {"data": {"name": "brk"}, "transform": [{"filter": "datum.p == 'd2'"}], "mark": {"type": "text", "fontSize": 10, "baseline": "alphabetic", "dy": 3, "color": "black", "dx": {"expr": "datum.to == 'F. nucleatum' ? -13.5 : -9.0"}},
     "encoding": {"x": {"field": "g", "type": "nominal"}, "xOffset": {"field": "to", "type": "nominal"}, "y": {"field": "y", "type": "quantitative", "scale": {"domain": [0,3], "nice": false}}, "text": {"field": "lab"}}}
   ]},
  {"width": 142, "height": 136,
   "title": {"text": "HT29", "anchor": "start", "frame": "group", "dx": -5, "offset": 1, "fontSize": 11},
   "layer": [
    {"data": {"name": "bars"}, "transform": [{"filter": "datum.p == 'd3'"}], "mark": {"type": "bar", "stroke": "black", "strokeWidth": 1.1},
     "encoding": {
      "x": {"field": "g", "type": "nominal", "scale": {"domain": ["DNMT1","DNMT3A","DNMT3B"], "paddingInner": 0.22, "paddingOuter": 0.12}, "axis": {"title": null, "labelAngle": 0, "labelFontSize": 10.5}},
      "xOffset": {"field": "t", "type": "nominal", "scale": {"domain": ["PBS","E. Coli","H. hathewayi","F. nucleatum"], "paddingInner": 0.3, "paddingOuter": 0.1}},
      "y": {"field": "v", "type": "quantitative", "scale": {"domain": [0,3], "nice": false}, "axis": {"title": "Relative DNMTs activity", "titleFontSize": 13, "titlePadding": 3, "labelFontSize": 13, "tickCount": 12, "format": "d", "values": [0,1,2,3]}},
      "fill": {"field": "t", "type": "nominal", "scale": {"domain": ["PBS","E. Coli","H. hathewayi","F. nucleatum"], "range": ["#ffffff","#0000b4","#ff0000","#f4878a"]}, "legend": null}
     }},
    {"data": {"name": "bars"}, "transform": [{"filter": "datum.p == 'd3'"}], "mark": {"type": "rule", "color": "black", "strokeWidth": 1},
     "encoding": {"x": {"field": "g", "type": "nominal"}, "xOffset": {"field": "t", "type": "nominal"}, "y": {"field": "v", "type": "quantitative", "scale": {"domain": [0,3], "nice": false}}, "y2": {"field": "hi"}}},
    {"data": {"name": "bars"}, "transform": [{"filter": "datum.p == 'd3'"}], "mark": {"type": "tick", "color": "black", "thickness": 1, "size": 4},
     "encoding": {"x": {"field": "g", "type": "nominal"}, "xOffset": {"field": "t", "type": "nominal"}, "y": {"field": "hi", "type": "quantitative", "scale": {"domain": [0,3], "nice": false}}}},
    {"data": {"name": "brk"}, "transform": [{"filter": "datum.p == 'd3'"}, {"fold": ["from","to"], "as": ["end","tr"]}], "mark": {"type": "line", "color": "black", "strokeWidth": 1},
     "encoding": {"x": {"field": "g", "type": "nominal"}, "xOffset": {"field": "tr", "type": "nominal"}, "y": {"field": "y", "type": "quantitative", "scale": {"domain": [0,3], "nice": false}}, "detail": [{"field": "g", "type": "nominal"}, {"field": "to", "type": "nominal"}]}},
    {"data": {"name": "brk"}, "transform": [{"filter": "datum.p == 'd3'"}], "mark": {"type": "text", "fontSize": 10, "baseline": "alphabetic", "dy": 3, "color": "black", "dx": {"expr": "datum.to == 'F. nucleatum' ? -14.1 : -9.4"}},
     "encoding": {"x": {"field": "g", "type": "nominal"}, "xOffset": {"field": "to", "type": "nominal"}, "y": {"field": "y", "type": "quantitative", "scale": {"domain": [0,3], "nice": false}}, "text": {"field": "lab"}}}
   ]}
 ]
}
 ]
}
]
}
